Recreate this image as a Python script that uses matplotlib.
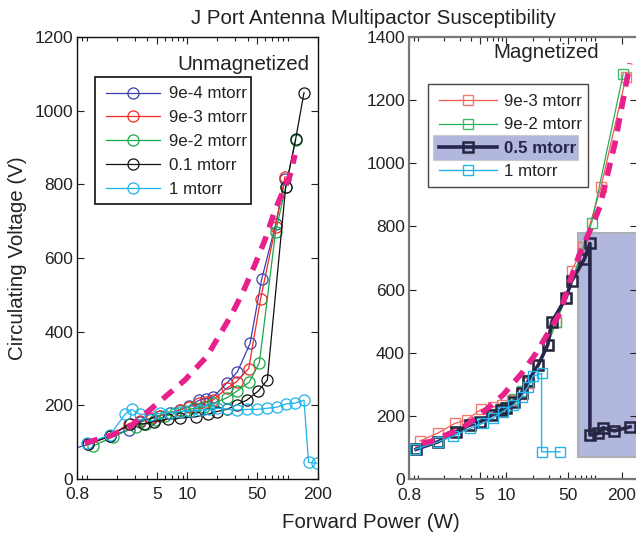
import matplotlib
matplotlib.use('Agg')
import matplotlib.pyplot as plt
from matplotlib.patches import Rectangle
from matplotlib.ticker import FixedLocator, FixedFormatter, LogLocator, NullFormatter

plt.rcParams['font.family'] = ['Liberation Sans', 'DejaVu Sans']

# ---------------- data: Unmagnetized ----------------
u_labels = ['9e-4 mtorr', '9e-3 mtorr', '9e-2 mtorr', '0.1 mtorr', '1 mtorr']
u_p_9e4 = [0.65, 1.03, 1.70, 2.6, 3.4, 4.3, 5.4, 6.8, 8.4, 10.5, 13.1, 15.5, 18.2, 24.7, 31.5, 42.3, 55.2, 76.2, 94.4]
u_v_9e4 = [78, 94, 117, 133, 155, 163, 172, 180, 188, 197, 214, 218, 223, 260, 290, 368, 542, 692, 815]
u_p_9e3 = [1.03, 1.70, 2.6, 3.4, 4.3, 5.4, 6.8, 8.4, 10.5, 13.1, 15.5, 18.2, 24.7, 31.0, 41.0, 53.9, 76.0, 94.4]
u_v_9e3 = [94, 117, 150, 158, 165, 172, 180, 188, 195, 205, 210, 215, 246, 264, 300, 489, 685, 821]
u_p_9e2 = [1.16, 1.83, 3.1, 3.9, 4.8, 6.0, 7.5, 9.4, 11.8, 14.8, 18.2, 24.7, 31.5, 41.6, 52.4, 76.0, 95.8, 120.6]
u_v_9e2 = [90, 115, 142, 150, 160, 170, 178, 185, 192, 196, 205, 220, 239, 263, 316, 671, 792, 920]
u_p_01 = [1.03, 1.70, 2.69, 3.7, 4.7, 6.45, 8.4, 12.3, 16.1, 19.6, 24.7, 31.0, 39.2, 51.2, 62.9, 95.8, 120.6, 146]
u_v_01 = [94, 117, 149, 150, 156, 163, 165, 169, 176, 183, 189, 201, 214, 239, 269, 792, 923, 1049]
u_p_1 = [0.99, 1.7, 2.4, 2.78, 3.37, 4.25, 5.35, 6.7, 8.4, 10.6, 13.3, 16.5, 20, 25, 31.5, 39.7, 49.2, 62, 78, 97, 119, 146, 162, 195]
u_v_1 = [97, 120, 176, 189, 176, 174, 178, 180, 183, 185, 187, 189, 192, 190, 187, 189, 189, 192, 195, 204, 206, 214, 45, 43]
u_theory_p = [0.95, 1.76, 2.69, 5.13, 9.5, 15.6, 19.6, 27.5, 36, 47.2, 59.5, 75, 106, 118.6]
u_theory_v = [97, 119, 142, 207, 269, 332, 377, 445, 508, 581, 649, 730, 825, 880]

# ---------------- data: Magnetized ----------------
m_labels = ['9e-3 mtorr', '9e-2 mtorr', '0.5 mtorr', '1 mtorr']
m_p_9e3 = [1.06, 1.71, 2.64, 3.58, 5.2, 7.0, 9.0, 11.5, 14.5, 18, 23, 29.3, 36.3, 47.1, 54.6, 73.9, 117, 224]
m_v_9e3 = [121, 147, 177, 188, 221, 228, 235, 250, 270, 305, 360, 425, 497, 574, 660, 736, 925, 1273]
m_p_9e2 = [0.96, 1.71, 2.74, 3.9, 5.05, 6.87, 8.8, 10.0, 12.2, 14.9, 17.7, 22.96, 29.3, 36.3, 47.1, 91.8, 208]
m_v_9e2 = [95, 119, 151, 172, 182, 205, 222, 230, 255, 280, 315, 362, 425, 497, 574, 812, 1282]
m_p_05 = [0.96, 1.71, 2.74, 3.9, 5.05, 6.87, 8.8, 10.0, 12.2, 14.9, 17.7, 22.96, 29.3, 32.5, 47.1, 54.6, 75.7, 87.7, 87.7, 108, 123, 165, 249]
m_v_05 = [95, 119, 151, 172, 182, 203, 219, 225, 245, 274, 311, 362, 425, 497, 574, 628, 696, 746, 140, 145, 163, 153, 166]
m_p_1 = [0.94, 1.71, 2.53, 3.9, 5.4, 7.0, 9.1, 12, 14.9, 17.6, 20.1, 25, 25, 40.3]
m_v_1 = [95, 119, 137, 161, 177, 193, 214, 235, 261, 293, 327, 335, 87, 87]
m_theory_p = [1.11, 1.38, 3.15, 5.0, 9.2, 14.9, 21.8, 23.9, 40.2, 52.6, 66.2, 95.5, 113.5, 168, 248]
m_theory_v = [114, 119, 161, 203, 267, 335, 400, 419, 525, 630, 709, 810, 862, 1063, 1316]
shade_p = [63.8, 330]
shade_v = [71, 778]

xticks = [0.8, 5, 10, 50, 200]
xticklabels = ['0.8', '5', '10', '50', '200']

W, H = 636, 536
fig = plt.figure(figsize=(W / 100, H / 100), dpi=100)
axL = fig.add_axes([77.3 / W, 57 / H, 240.4 / W, 442 / H])
axR = fig.add_axes([409 / W, 56.7 / H, 228.3 / W, 442.6 / H])

txt = '#222222'
magenta = '#e8208c'

# left panel
u_colors = ['#3b3fae', '#ee2b24', '#17a84a', '#111111', '#1fb4ea']
u_series = [(u_p_9e4, u_v_9e4), (u_p_9e3, u_v_9e3), (u_p_9e2, u_v_9e2), (u_p_01, u_v_01), (u_p_1, u_v_1)]
hL = []
for (p, v), c, lab in zip(u_series, u_colors, u_labels):
    h, = axL.plot(p, v, '-o', color=c, lw=0.9, ms=8, mfc='none', mec=c, mew=0.9, label=lab)
    hL.append(h)
axL.plot(u_theory_p, u_theory_v, color=magenta, lw=4, dashes=(2.4, 1.7), solid_capstyle='butt', zorder=3)

# right panel
axR.add_patch(Rectangle((shade_p[0], shade_v[0]), shade_p[1] - shade_p[0], shade_v[1] - shade_v[0],
                        facecolor='#b2b7dd', edgecolor='#aeb0b8', lw=1.5, zorder=1))
m_styles = [
    dict(color='#f0574e', lw=0.9, mec='#f07a72', mew=1.0),
    dict(color='#2aae5a', lw=0.9, mec='#3dbb6a', mew=1.0),
    dict(color='#26264f', lw=2.6, mec='#262640', mew=1.8),
    dict(color='#22b4ea', lw=1.0, mec='#22b4ea', mew=1.0),
]
m_series = [(m_p_9e3, m_v_9e3), (m_p_9e2, m_v_9e2), (m_p_05, m_v_05), (m_p_1, m_v_1)]
hR = []
for (p, v), st, lab in zip(m_series, m_styles, m_labels):
    h, = axR.plot(p, v, '-s', ms=7, mfc='none', label=lab, zorder=2, **st)
    hR.append(h)
axR.plot(m_theory_p, m_theory_v, color=magenta, lw=4, dashes=(2.4, 1.7), solid_capstyle='butt', zorder=3)

for ax, ymax, xmax, spc in [(axL, 1200, 200, '#111111'), (axR, 1400, 300, '#777777')]:
    ax.set_xscale('log')
    ax.set_xlim(0.8, xmax)
    ax.set_ylim(0, ymax)
    ax.xaxis.set_major_locator(FixedLocator(xticks))
    ax.xaxis.set_major_formatter(FixedFormatter(xticklabels))
    ax.xaxis.set_minor_locator(LogLocator(base=10, subs=range(1, 10), numticks=20))
    ax.xaxis.set_minor_formatter(NullFormatter())
    ax.set_yticks(range(0, ymax + 1, 200))
    ax.tick_params(which='both', direction='in', top=True, right=True, labelsize=12.5,
                   colors=txt, width=0.8)
    ax.tick_params(which='major', length=5)
    ax.tick_params(which='minor', length=3)
    ax.tick_params(axis='x', pad=6)
    ax.tick_params(axis='y', pad=3)
    for s in ax.spines.values():
        s.set_color(spc)
        s.set_linewidth(1.0 if ax is axL else 1.6)

axL.text(0.965, 0.96, 'Unmagnetized', transform=axL.transAxes, ha='right', va='top', fontsize=14.8, color=txt)
fig.text(546 / W, 1 - 53 / H, 'Magnetized', ha='center', va='center', fontsize=14.8, color=txt)

fig.text(373 / W, 1 - 18 / H, 'J Port Antenna Multipactor Susceptibility', ha='center', va='center',
         fontsize=14.8, color=txt)
fig.text(371 / W, 1 - 522 / H, 'Forward Power (W)', ha='center', va='center', fontsize=14.8, color=txt)
fig.text(18 / W, 1 - 258 / H, 'Circulating Voltage (V)', ha='center', va='center', rotation=90,
         fontsize=14.8, color=txt)

# legend frames
def fig_rect(x0, y0, x1, y1, **kw):
    r = Rectangle((x0 / W, 1 - y1 / H), (x1 - x0) / W, (y1 - y0) / H, transform=fig.transFigure, **kw)
    fig.patches.append(r)
    return r

fig_rect(95, 77, 251, 204, facecolor='white', edgecolor='#111111', lw=1.2, zorder=3)
fig_rect(428, 84, 588, 187, facecolor='white', edgecolor='#444444', lw=1.0, zorder=3)
fig_rect(433, 135, 578, 160, facecolor='#b2b7dd', edgecolor='#c8cad6', lw=0.8, zorder=4)

legL = fig.legend(hL, u_labels, loc='upper left', bbox_to_anchor=(106 / W, 1 - 86.5 / H),
                  bbox_transform=fig.transFigure, frameon=False, fontsize=12.2, borderpad=0,
                  borderaxespad=0, handlelength=3.2, handletextpad=0.5, labelspacing=0.52)
legR = fig.legend(hR, m_labels, loc='upper left', bbox_to_anchor=(439 / W, 1 - 94 / H),
                  bbox_transform=fig.transFigure, frameon=False, fontsize=12.2, borderpad=0,
                  borderaxespad=0, handlelength=3.4, handletextpad=0.45, labelspacing=0.5)
for t in legL.get_texts() + legR.get_texts():
    t.set_color(txt)
legR.get_texts()[2].set_fontweight('bold')
legR.get_texts()[2].set_color('#26264f')
legL.set_zorder(5)
legR.set_zorder(5)

fig.savefig('out.png', dpi=100)
